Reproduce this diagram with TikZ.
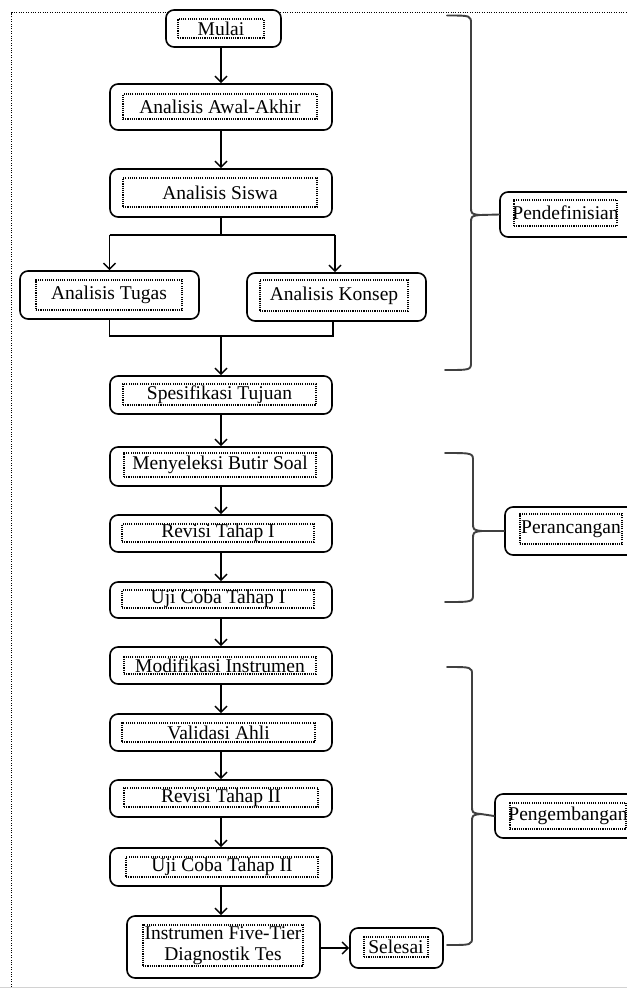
\documentclass[tikz,border=0pt]{standalone}
\usepackage{fontspec}
\setmainfont{Liberation Serif}
\usetikzlibrary{fit,arrows.meta,calc}
\begin{document}
\begin{tikzpicture}[x=1pt,y=-1pt,
  obox/.style={draw, line width=1.6pt, rounded corners=8pt, fill=white, inner sep=0pt},
  ibox/.style={draw, line width=1.2pt, dash pattern=on 1.1pt off 1.1pt, inner sep=0pt},
  txt/.style={inner sep=0pt, font=\fontsize{19.5}{21}\selectfont, align=center},
  arr/.style={line width=1.8pt, -{Straight Barb[length=6pt,width=12pt,line width=1.5pt]}},
  ln/.style={line width=1.8pt},
  brace/.style={line width=1.9pt, draw=black!75, line cap=round, line join=round},
  frame/.style={line width=1.3pt, dash pattern=on 1.1pt off 1.3pt}
]
\useasboundingbox (0,0) rectangle (627,989);
\fill[white] (0,0) rectangle (627,989);
% outer dotted frame
\draw[frame] (11.5,987) -- (11.5,12.5) -- (627,12.5);
\draw[gray!35, line width=1.5pt] (0,987.5) -- (627,987.5);

% boxes
\node[obox, fit={(166,10)(281,47)}] (mulai) {};
\node[ibox, fit={(178,19)(264,38)}] (mulai-i) {};
\node[txt] (mulai-t) at (mulai-i) {Mulai};

\node[obox, fit={(110,84)(332,130)}] (awal) {};
\node[ibox, fit={(123,94)(317,119)}] (awal-i) {};
\node[txt] (awal-t) at (awal-i) {Analisis Awal-Akhir};

\node[obox, fit={(110,169)(332,217)}] (siswa) {};
\node[ibox, fit={(123,178)(317,207)}] (siswa-i) {};
\node[txt] (siswa-t) at (siswa-i) {Analisis Siswa};

\node[obox, fit={(20,271)(199,319)}] (tugas) {};
\node[ibox, fit={(36,280)(182,310)}] (tugas-i) {};
\node[txt] (tugas-t) at (tugas-i) {Analisis Tugas};

\node[obox, fit={(247,273)(426,321)}] (konsep) {};
\node[ibox, fit={(260,280)(408,311)}] (konsep-i) {};
\node[txt] (konsep-t) at (konsep-i) {Analisis Konsep};

\node[obox, fit={(110,376)(332,414)}] (spes) {};
\node[ibox, fit={(123,384)(316,405)}] (spes-i) {};
\node[txt] (spes-t) at (spes-i) {Spesifikasi Tujuan};

\node[obox, fit={(110,447)(332,486)}] (seleksi) {};
\node[ibox, fit={(124,453)(316,477)}] (seleksi-i) {};
\node[txt] (seleksi-t) at (seleksi-i) {Menyeleksi Butir Soal};

\node[obox, fit={(110,515)(332,552)}] (rev1) {};
\node[ibox, fit={(122,524)(314,542)}] (rev1-i) {};
\node[txt] (rev1-t) at (rev1-i) {Revisi Tahap I};

\node[obox, fit={(110,582)(332,618)}] (uji1) {};
\node[ibox, fit={(122,590)(314,608)}] (uji1-i) {};
\node[txt] (uji1-t) at (uji1-i) {Uji Coba Tahap I};

\node[obox, fit={(110,647)(332,684)}] (modif) {};
\node[ibox, fit={(124,657)(316,674)}] (modif-i) {};
\node[txt] (modif-t) at (modif-i) {Modifikasi Instrumen};

\node[obox, fit={(110,714)(332,751)}] (valid) {};
\node[ibox, fit={(122,723)(315,742)}] (valid-i) {};
\node[txt] (valid-t) at (valid-i) {Validasi Ahli};

\node[obox, fit={(110,780)(332,817)}] (rev2) {};
\node[ibox, fit={(124,788)(318,807)}] (rev2-i) {};
\node[txt] (rev2-t) at (rev2-i) {Revisi Tahap II};

\node[obox, fit={(110,848)(332,886)}] (uji2) {};
\node[ibox, fit={(126,857)(318,877)}] (uji2-i) {};
\node[txt] (uji2-t) at (uji2-i) {Uji Coba Tahap II};

\node[obox, fit={(127,916)(320,978)}] (instr) {};
\node[ibox, fit={(143,925)(303,966)}] (instr-i) {};
\node[txt] (instr-t) at (instr-i) {Instrumen Five-Tier\\Diagnostik Tes};

\node[obox, fit={(350,928)(443,968)}] (selesai) {};
\node[ibox, fit={(364,937)(428,957)}] (selesai-i) {};
\node[txt] (selesai-t) at (selesai-i) {Selesai};

% phase boxes (right, cut off by page edge)
\node[obox, fit={(500,192)(645,237)}] (pdef) {};
\node[ibox, fit={(514,200)(617,226)}] (pdef-i) {};
\node[txt] (pdef-t) at (pdef-i) {Pendefinisian};

\node[obox, fit={(505,507)(645,555)}] (pran) {};
\node[ibox, fit={(520,514)(622,544)}] (pran-i) {};
\node[txt] (pran-t) at (pran-i) {Perancangan};

\node[obox, fit={(495,794)(645,838)}] (pgem) {};
\node[ibox, fit={(510,803)(626,829)}] (pgem-i) {};
\node[txt] (pgem-t) at (pgem-i) {Pengembangan};

% connectors
\draw[arr] (mulai.south -| awal.north) -- (awal.north);
\draw[arr] (awal.south) -- (siswa.north);
\draw[ln] (siswa.south) -- ++(0,17) coordinate (split);
\coordinate (splitL) at (split -| tugas.north);
\coordinate (splitR) at ($(split -| konsep.north)+(-1.5,0)$);
\draw[ln] (splitL) -- (splitR);
\draw[arr] (splitL) -- (tugas.north);
\draw[arr] (splitR) -- (splitR |- konsep.north);
\coordinate (merge) at ($(spes.north)+(0,-39)$);
\coordinate (mergeL) at (merge -| tugas.south);
\coordinate (mergeR) at ($(merge -| konsep.south)+(-3.5,0)$);
\draw[ln] (tugas.south) -- (mergeL) -- (mergeR) -- (mergeR |- konsep.south);
\draw[arr] (merge) -- (spes.north);
\draw[arr] (spes.south) -- (seleksi.north);
\draw[arr] (seleksi.south) -- (rev1.north);
\draw[arr] (rev1.south) -- (uji1.north);
\draw[arr] (uji1.south) -- (modif.north);
\draw[arr] (modif.south) -- (valid.north);
\draw[arr] (valid.south) -- (rev2.north);
\draw[arr] (rev2.south) -- (uji2.north);
\draw[arr] (uji2.south) -- (uji2.south |- instr.north);
\draw[arr] (instr.east |- selesai.west) -- (selesai.west);

% braces
\coordinate (b1tip) at (pdef.west);
\draw[brace] (447,15.5) .. controls (471,15.5) .. (471,24) -- (471,206)
  .. controls (471,214) .. (480,215) -- (b1tip);
\draw[brace] (480,215) .. controls (471,216) .. (471,224) -- (471,362)
  .. controls (471,370) .. (445,370);

\coordinate (b2tip) at (pran.west);
\draw[brace] (445,453) .. controls (473,453) .. (473,461) -- (473,522)
  .. controls (473,530) .. (482,531) -- (b2tip);
\draw[brace] (482,531) .. controls (473,532) .. (473,540) -- (473,594)
  .. controls (473,602) .. (445,602);

\coordinate (b3tip) at (pgem.west);
\draw[brace] (447,667) .. controls (472,667) .. (472,675) -- (472,805)
  .. controls (472,813) .. (481,814) -- (b3tip);
\draw[brace] (481,814) .. controls (472,815) .. (472,823) -- (472,937)
  .. controls (472,945) .. (447,945);
\end{tikzpicture}
\end{document}
